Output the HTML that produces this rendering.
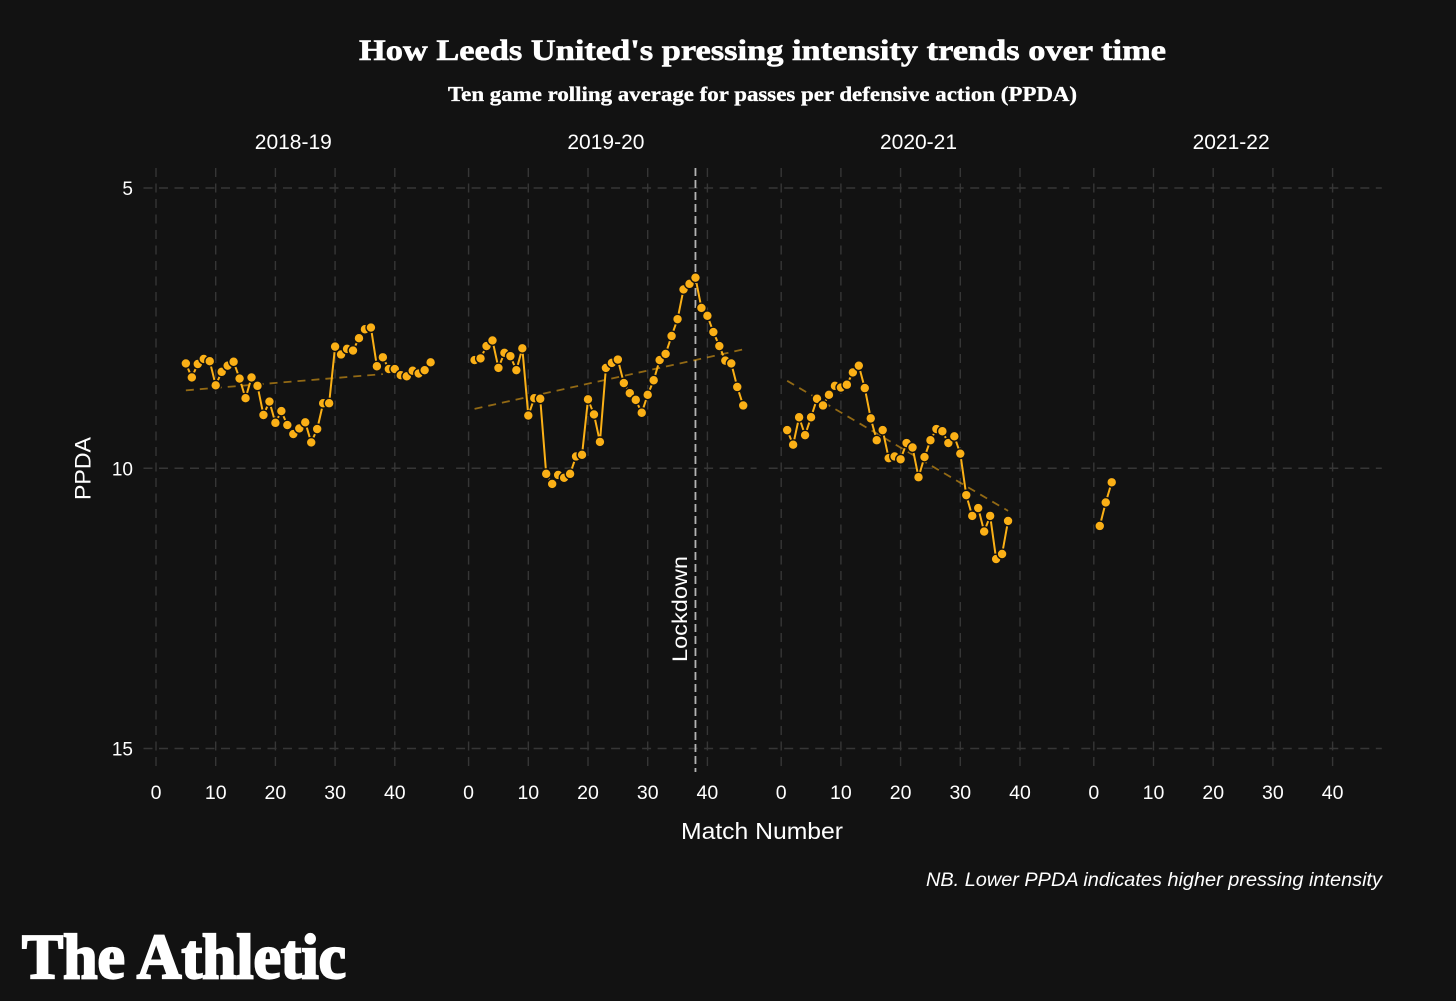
<!DOCTYPE html>
<html lang="en">
<head>
<meta charset="utf-8">
<title>How Leeds United's pressing intensity trends over time</title>
<style>
  html, body { margin: 0; padding: 0; background: #121212; }
  body { width: 1456px; height: 1001px; overflow: hidden; }
  svg { display: block; }
  text { fill: #ffffff; font-family: "Liberation Sans", sans-serif; }
  .serif { font-family: "Liberation Serif", serif; font-weight: 700; }
</style>
</head>
<body>
<svg id="chart" xmlns="http://www.w3.org/2000/svg" width="1456" height="1001" viewBox="0 0 1456 1001">
  <rect x="0" y="0" width="1456" height="1001" fill="#121212"/>
  <text class="serif" x="359" y="60" font-size="30" stroke="#ffffff" stroke-width="0.6" textLength="807" lengthAdjust="spacingAndGlyphs">How Leeds United's pressing intensity trends over time</text>
  <text class="serif" x="448" y="101" font-size="21" stroke="#ffffff" stroke-width="0.35" textLength="629" lengthAdjust="spacingAndGlyphs">Ten game rolling average for passes per defensive action (PPDA)</text>
  <g id="grid"></g>
  <g id="axes"></g>
  <g id="marks"></g>
  <text transform="translate(90.5,500) rotate(-90)" font-size="22" textLength="63" lengthAdjust="spacingAndGlyphs">PPDA</text>
  <text x="681" y="839" font-size="23" textLength="162" lengthAdjust="spacingAndGlyphs">Match Number</text>
  <text x="926" y="886" font-size="19" font-style="italic" textLength="456" lengthAdjust="spacingAndGlyphs">NB. Lower PPDA indicates higher pressing intensity</text>
  <text class="serif" x="22" y="978" font-size="63" stroke="#ffffff" stroke-width="2.2" textLength="324" lengthAdjust="spacingAndGlyphs">The Athletic</text>
</svg>
<script>
const seasons = ["2018-19", "2019-20", "2020-21", "2021-22"];
const xTicks = [0, 10, 20, 30, 40];
const yTicks = [5, 10, 15];
const firstMatch = [5, 1, 1, 1];
const ppda201819 = [8.13, 8.38, 8.14, 8.05, 8.09, 8.52, 8.28, 8.17, 8.10, 8.40, 8.75, 8.38, 8.53, 9.05, 8.81, 9.19, 8.98, 9.23, 9.39, 9.29, 9.18, 9.54, 9.30, 8.84, 8.84, 7.83, 7.97, 7.87, 7.90, 7.68, 7.52, 7.49, 8.18, 8.02, 8.23, 8.23, 8.34, 8.36, 8.26, 8.31, 8.25, 8.11];
const ppda201920 = [8.07, 8.04, 7.82, 7.72, 8.21, 7.94, 8.00, 8.25, 7.86, 9.06, 8.75, 8.76, 10.10, 10.28, 10.12, 10.17, 10.10, 9.79, 9.76, 8.77, 9.04, 9.53, 8.21, 8.12, 8.06, 8.48, 8.66, 8.78, 9.01, 8.69, 8.43, 8.07, 7.96, 7.64, 7.34, 6.81, 6.71, 6.60, 7.14, 7.28, 7.57, 7.82, 8.08, 8.13, 8.55, 8.88];
const ppda202021 = [9.32, 9.58, 9.09, 9.41, 9.09, 8.76, 8.88, 8.69, 8.53, 8.56, 8.51, 8.29, 8.17, 8.57, 9.11, 9.50, 9.32, 9.82, 9.79, 9.84, 9.55, 9.63, 10.16, 9.80, 9.50, 9.30, 9.34, 9.55, 9.43, 9.74, 10.48, 10.85, 10.71, 11.13, 10.85, 11.62, 11.53, 10.94];
const ppda202122 = [11.03, 10.61, 10.25];
const trend201819 = [[5, 8.61], [38, 8.32]];
const trend201920 = [[1, 8.94], [46, 7.88]];
const trend202021 = [[1, 8.44], [38, 10.76]];
const lockdownMatch = 38;
const lockdownSeason = 1;

const seriesList = [ppda201819, ppda201920, ppda202021, ppda202122];
const trendList = [trend201819, trend201920, trend202021, null];

const NS = "http://www.w3.org/2000/svg";
const ORANGE = "#fbb016";
const GRID = "#363636";
const PANEL_TOP = 168;
const PANEL_BOTTOM = 772;
const PANEL_LEFT = 143.5;
const PANEL_WIDTH = 300.5;
const PANEL_STEP = 312.6;

function xScale(panel, match) {
  return 156 + panel * PANEL_STEP + match * 5.97;
}
function yScale(v) {
  return 188 + (v - 5) * 56.05;
}
function make(tag, attrs, parent) {
  const el = document.createElementNS(NS, tag);
  for (const k in attrs) el.setAttribute(k, attrs[k]);
  parent.appendChild(el);
  return el;
}

const gridG = document.getElementById("grid");
const axesG = document.getElementById("axes");
const marksG = document.getElementById("marks");

seasons.forEach(function (season, p) {
  const left = PANEL_LEFT + p * PANEL_STEP;

  yTicks.forEach(function (t) {
    const gl = make("line", { x1: left, x2: left + PANEL_WIDTH, y1: yScale(t), y2: yScale(t), stroke: GRID, "stroke-width": 1.4, "stroke-dasharray": "9 6.5" }, gridG);
    
    
  });
  xTicks.forEach(function (t) {
    const x = xScale(p, t);
    const gl = make("line", { x1: x, x2: x, y1: PANEL_TOP, y2: PANEL_BOTTOM, stroke: GRID, "stroke-width": 1.4, "stroke-dasharray": "9 6.5" }, gridG);
    
    

    const lab = make("text", { x: x, y: 799, "font-size": 19.5, "text-anchor": "middle" }, axesG);
    lab.textContent = t;
    
    
  });

  const head = make("text", { x: xScale(p, 23), y: 149, "font-size": 21, "text-anchor": "middle" }, axesG);
  head.textContent = season;
  
  
});

yTicks.forEach(function (t) {
  const lab = make("text", { x: 133, y: yScale(t) + 7, "font-size": 19, "text-anchor": "end" }, axesG);
  lab.textContent = t;
  
  
});

const lockX = xScale(lockdownSeason, lockdownMatch);
const lockLine = make("line", { x1: lockX, x2: lockX, y1: PANEL_TOP, y2: PANEL_BOTTOM, stroke: "#b4b4b4", "stroke-width": 1.8, "stroke-dasharray": "8 4" }, marksG);


const lockText = make("text", { transform: "translate(" + (lockX - 8.5) + ",662) rotate(-90)", "font-size": 21, textLength: 106, lengthAdjust: "spacingAndGlyphs" }, marksG);
lockText.textContent = "Lockdown";



seriesList.forEach(function (values, p) {
  const trend = trendList[p];
  if (trend) {
    const tl = make("line", {
      x1: xScale(p, trend[0][0]), y1: yScale(trend[0][1]),
      x2: xScale(p, trend[1][0]), y2: yScale(trend[1][1]),
      stroke: ORANGE, "stroke-opacity": 0.55, "stroke-width": 1.8, "stroke-dasharray": "8 6"
    }, marksG);
    
    
  }

  const pts = values.map(function (v, i) {
    return xScale(p, firstMatch[p] + i).toFixed(2) + "," + yScale(v).toFixed(2);
  }).join(" ");
  const poly = make("polyline", { points: pts, fill: "none", stroke: ORANGE, "stroke-width": 2 }, marksG);
  
  

  values.forEach(function (v, i) {
    const c = make("circle", { cx: xScale(p, firstMatch[p] + i), cy: yScale(v), r: 4.9, fill: ORANGE, stroke: "#121212", "stroke-width": 1.4 }, marksG);
    
    
  });
});
</script>
</body>
</html>
